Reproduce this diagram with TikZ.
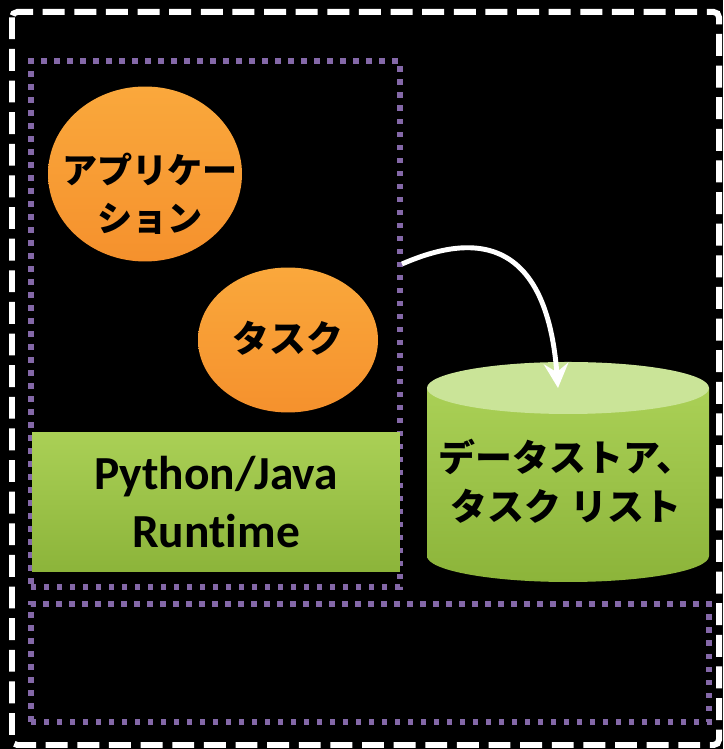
\documentclass[tikz,border=0pt]{standalone}
\usepackage{fontspec}
\setmainfont{Carlito}[Ligatures=NoCommon]
\newfontfamily\jpfont{Noto Sans CJK JP}
\usetikzlibrary{arrows.meta}
\usetikzlibrary{shapes.geometric}
\definecolor{zonepurple}{RGB}{132,104,168}
\definecolor{orangehi}{RGB}{250,168,60}
\definecolor{orangelo}{RGB}{245,145,45}
\definecolor{greenhi}{RGB}{170,208,86}
\definecolor{greenlo}{RGB}{140,180,58}
\definecolor{greentop}{RGB}{202,228,152}
\tikzset{
	zone/.style={draw=zonepurple, line width=3.2pt, dash pattern=on 3pt off 4.4pt},
	bubble/.style={ellipse, inner sep=0pt, top color=orangehi, bottom color=orangelo},
	bubbletext/.style={align=center, font=\jpfont\bfseries\fontsize{20}{27}\selectfont},
	flow/.style={draw=white, line width=2.8pt, -{Stealth[length=14pt,width=14pt,inset=5pt]}}
}
\begin{document}
\begin{tikzpicture}[x=0.02cm, y=0.02cm]
	\useasboundingbox (0,0) rectangle (723,749);
	\fill[black] (0,0) rectangle (723,749);
	
	%outer border
	\draw[white, line width=3.4pt, dash pattern=on 12.5pt off 5.5pt, rounded corners=3pt] (12,737) rectangle (719,4);
	
	%dotted zones
	\node[zone, minimum width=7.38cm, minimum height=10.52cm] (appzone) at (215.5,425) {};
	\node[zone, minimum width=13.56cm, minimum height=2.36cm] (lowzone) at (370,86) {};
	
	%bubbles
	\node[bubble, minimum width=3.88cm, minimum height=3.5cm] (app) at (145,575) {};
	\node[bubbletext] (apptext) at (150,555) {アプリケー\\ション};
	\node[bubble, minimum width=3.6cm, minimum height=2.9cm] (task) at (288,409) {};
	\node[bubbletext, font=\jpfont\bfseries\fontsize{21}{27}\selectfont] (tasktext) at (288,411) {タスク};
	
	%runtime
	\node[top color=greenhi, bottom color=greenlo, minimum width=7.36cm, minimum height=2.8cm, align=center, font=\bfseries\fontsize{27}{33}\selectfont] (runtime) at (216,247) {Python/Java\\Runtime};
	
	%data store cylinder
	\fill[top color=greenhi, bottom color=greenlo] (427,361) -- (427,193) arc (180:360:141 and 26) -- (709,361) -- cycle;
	\fill[greentop] (568,361) ellipse (141 and 26);
	\node[align=center, font=\jpfont\bfseries\fontsize{21}{28}\selectfont] (store) at (566,268) {データストア、\\タスク\hspace{0.25em}リスト};
	
	%arrow
	\coordinate (flowstart) at (402,485);
	\coordinate (storetop) at (558,361);
	\draw[flow] (flowstart) .. controls (455,508) and (545,530) .. (storetop);
\end{tikzpicture}
\end{document}
